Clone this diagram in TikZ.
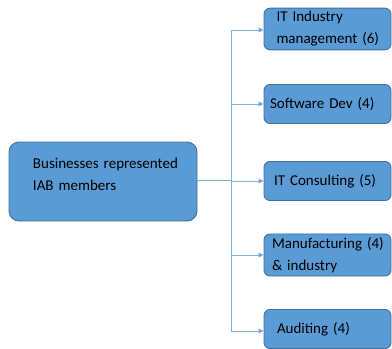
\documentclass[tikz,border=0pt]{standalone}
\usepackage{fontspec}
\setmainfont{Carlito}
\usetikzlibrary{arrows.meta}

\definecolor{boxfill}{HTML}{5B9BD5}
\definecolor{boxline}{HTML}{41719C}
\definecolor{linkline}{HTML}{7FB0E0}

\tikzset{
 catbox/.style={draw=boxline, fill=boxfill, rounded corners=6pt, line width=0.9pt,
  minimum width=127pt, minimum height=39pt, align=left, font=\fontsize{15}{22}\selectfont},
 link/.style={draw=linkline, line width=0.8pt},
 linkarrow/.style={link, -{Triangle[length=5pt,width=5pt,fill=boxfill]}}
}

\begin{document}
\begin{tikzpicture}[x=1pt,y=-1pt]
 \useasboundingbox (0,0) rectangle (392,349);

 % main box on the left, its text sits a bit above the middle
 \node (iab) at (103,181.5) [catbox, minimum width=188pt, minimum height=79pt, rounded corners=10pt] {};
 \node (iabtext) at ([xshift=4pt,yshift=7pt]iab.center) [align=left, text width=148pt,
  font=\fontsize{15}{22}\selectfont] {Businesses represented\\IAB members};

 % categories on the right
 \node (mgmt) at (327.5,29) [catbox, minimum height=40pt, inner xsep=12.5pt, text width=102pt] {IT Industry\\management~(6)};
 \node (soft) at (327.5,104) [catbox, inner xsep=6pt, text width=115pt] {Software Dev (4)};
 \node (cons) at (327.5,181) [catbox, inner xsep=10pt, text width=107pt] {IT Consulting~(5)};
 \node (manu) at (327.5,255) [catbox, minimum height=40pt, inner xsep=8pt, text width=111pt] {Manufacturing~(4)\\\& industry};
 \node (audit) at (327.5,329) [catbox, inner xsep=13pt, text width=101pt] {Auditing (4)};

 \coordinate (top) at (231,30); % upper end of the spine
 \coordinate (bot) at (231,331); % lower end of the spine
 \coordinate (mid) at (231,180); % where the main box joins

 \draw [link] (top) -- (bot);
 \draw [link] (iab.east |- mid) -- (mid);
 \draw [linkarrow] (top) -- (mgmt.west |- top);
 \draw [linkarrow] (top |- soft.west) -- (soft.west);
 \draw [linkarrow] (top |- cons.west) -- (cons.west);
 \draw [linkarrow] (top |- manu.west) -- (manu.west);
 \draw [linkarrow] (bot) -- (audit.west |- bot);
\end{tikzpicture}
\end{document}
